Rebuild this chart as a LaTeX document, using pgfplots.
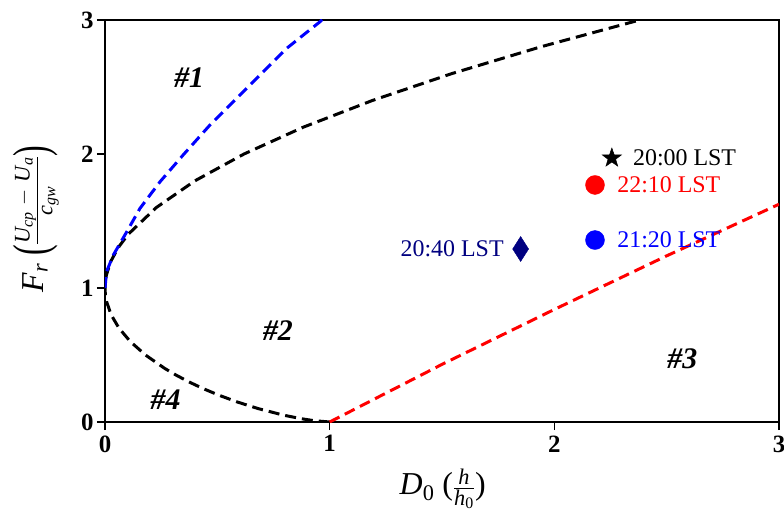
\documentclass[border=0pt]{standalone}
\usepackage{amsmath}
\usepackage{graphicx}
\usepackage{fontspec}
\setmainfont{Liberation Serif}
\usepackage{pgfplots}
\pgfplotsset{compat=1.18}
\pgfdeclareplotmark{fstar}{%
  \pgfpathmoveto{\pgfqpointpolar{90}{\pgfplotmarksize}}%
  \pgfpathlineto{\pgfqpointpolar{126}{0.4\pgfplotmarksize}}%
  \pgfpathlineto{\pgfqpointpolar{162}{\pgfplotmarksize}}%
  \pgfpathlineto{\pgfqpointpolar{198}{0.4\pgfplotmarksize}}%
  \pgfpathlineto{\pgfqpointpolar{234}{\pgfplotmarksize}}%
  \pgfpathlineto{\pgfqpointpolar{270}{0.4\pgfplotmarksize}}%
  \pgfpathlineto{\pgfqpointpolar{306}{\pgfplotmarksize}}%
  \pgfpathlineto{\pgfqpointpolar{342}{0.4\pgfplotmarksize}}%
  \pgfpathlineto{\pgfqpointpolar{18}{\pgfplotmarksize}}%
  \pgfpathlineto{\pgfqpointpolar{54}{0.4\pgfplotmarksize}}%
  \pgfpathclose
  \pgfusepathqfillstroke}
\newcommand{\bigpar}[1]{\raisebox{-0.13em}{\scalebox{1}[1.55]{#1}}}
\begin{document}
\begin{tikzpicture}
\begin{axis}[
  scale only axis, width=674bp, height=402bp,
  xmin=0, xmax=3, ymin=0, ymax=3,
  xtick={0,1,2,3}, ytick={0,1,2,3},
  xtick pos=left, ytick pos=left, tick align=outside,
  major tick length=8bp,
  axis line style={line width=1.3bp}, tick style={line width=1.3bp, black},
  /pgf/number format/assume math mode=true,
  ticklabel style={font=\fontsize{25}{30}\selectfont\bfseries},
  xticklabel style={yshift=-2bp},
  xlabel={\textit{D}$_{\text{0}}$ ($\frac{\textit{h}}{\textit{h}_{\text{0}}}$)},
  ylabel={\textit{F}$_{\textit{r}}$ \bigpar{(}$\frac{\textit{U}_{\textit{cp}}\mskip6mu-\mskip6mu\textit{U}_{\textit{a}}}{\textit{c}_{\textit{gw}}}$\bigpar{)}},
  label style={font=\fontsize{32}{36}\selectfont},
  xlabel style={at={(axis description cs:0.501,-0.167)}, anchor=center},
  ylabel style={at={(axis description cs:-0.102,0.505)}, anchor=center},
  clip=true,
]
\coordinate (O) at (rel axis cs:0,0);
\addplot[black, line width=3bp, dash pattern=on 11bp off 6bp] coordinates {
(1,0) (0.9304,0.01) (0.872,0.025) (0.7977,0.05) (0.6818,0.1) (0.5878,0.15) (0.507,0.2) (0.4359,0.25) (0.3728,0.3) (0.3164,0.35) (0.2657,0.4) (0.1801,0.5) (0.1129,0.6) (0.0624,0.7) (0.0273,0.8) (0.0067,0.9) (0.0017,0.95) (0,1) (0.0016,1.05) (0.0066,1.1) (0.0262,1.2) (0.0583,1.3) (0.1027,1.4) (0.228,1.6) (0.4004,1.8) (0.6189,2.0) (0.8824,2.2) (1.1912,2.4) (1.5436,2.6) (1.9401,2.8) (2.3799,3.0) (2.4966,3.05)
};
\addplot[blue, line width=3bp, dash pattern=on 11bp off 6bp] coordinates {
(0,1) (0.007,1.122) (0.037,1.246) (0.097,1.42) (0.156,1.595) (0.245,1.793) (0.348,1.993) (0.467,2.216) (0.571,2.39) (0.69,2.59) (0.809,2.789) (0.957,2.987) (0.97,3.01)
};
\addplot[red, line width=3bp, dash pattern=on 11bp off 6bp] coordinates {
(1,0) (1.5,0.43) (2,0.84) (2.5,1.24) (3,1.625)
};
\addplot[only marks, mark=fstar, mark size=10bp, mark options={fill=black, draw=black, line width=0.5bp}] coordinates {(2.256,1.97)};
\addplot[only marks, mark=*, mark size=9.5bp, mark options={fill=red, draw=red}] coordinates {(2.181,1.769)};
\addplot[only marks, mark=*, mark size=9.5bp, mark options={fill=blue, draw=blue}] coordinates {(2.181,1.358)};
\addplot[only marks, mark=diamond*, mark size=12.5bp, mark options={fill=blue!50!black, draw=blue!50!black, xscale=0.85}] coordinates {(1.85,1.291)};
\node[anchor=west, font=\fontsize{24}{28}\selectfont, black] at (axis cs:2.335,1.97) {20:00 LST};
\node[anchor=west, font=\fontsize{24}{28}\selectfont, red] at (axis cs:2.265,1.769) {22:10 LST};
\node[anchor=west, font=\fontsize{24}{28}\selectfont, blue] at (axis cs:2.265,1.358) {21:20 LST};
\node[anchor=east, font=\fontsize{24}{28}\selectfont, blue!50!black] at (axis cs:1.79,1.291) {20:40 LST};
\node[font=\fontsize{30}{34}\selectfont\bfseries\itshape] at (axis cs:0.375,2.567) {\#1};
\node[font=\fontsize{30}{34}\selectfont\bfseries\itshape] at (axis cs:0.77,0.68) {\#2};
\node[font=\fontsize{30}{34}\selectfont\bfseries\itshape] at (axis cs:2.57,0.47) {\#3};
\node[font=\fontsize{30}{34}\selectfont\bfseries\itshape] at (axis cs:0.27,0.17) {\#4};
\end{axis}
\pgfresetboundingbox
\path[use as bounding box] (O) ++(-105bp,-99bp) rectangle ++(784bp,521bp);
\end{tikzpicture}
\end{document}
